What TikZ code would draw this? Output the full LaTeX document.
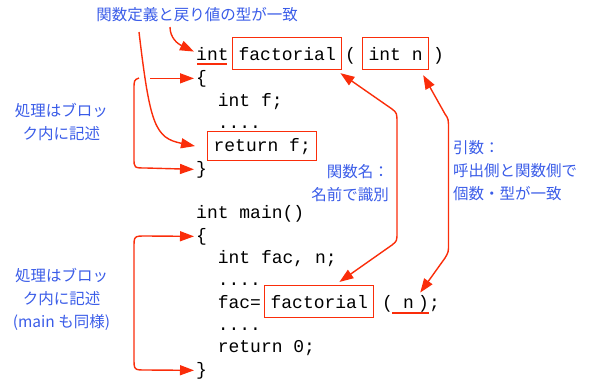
\documentclass[tikz,border=0pt]{standalone}
\usepackage{fontspec}
\setmonofont{Liberation Mono}
\newfontfamily\jpfont{Noto Sans CJK JP}
\usetikzlibrary{arrows.meta, positioning}
\definecolor{markred}{RGB}{250,45,10}
\definecolor{noteblue}{RGB}{58,92,232}

\begin{document}
\begin{tikzpicture}[x=1pt,y=-1pt,
  code/.style={anchor=base west,inner sep=0pt,font=\ttfamily\fontsize{18}{18}\selectfont},
  codebox/.style={code,draw=markred,line width=1.2pt,inner xsep=6pt,minimum height=32pt},
  note/.style={inner sep=0pt,text=noteblue,font=\jpfont\fontsize{15.5}{23}\selectfont},
  redline/.style={draw=markred,line width=1.4pt},
  redarrow/.style={redline,-{Triangle[length=14pt,width=10pt]}},
  botharrow/.style={redline,{Triangle[length=14pt,width=10pt]}-{Triangle[length=14pt,width=10pt]}}]
  \useasboundingbox (0,0) rectangle (592,381);

  % function definition
  \node[code] (inth) at (196,60) {int};
  \node[codebox] (facth) at (232,60) {factorial};
  \node[code] (lph) at (345,60) {(};
  \node[codebox] (intn) at (362,60) {int n};
  \node[code] (rph) at (433,60) {)};
  \node[code] (lb1) at (196,83) {\{};
  \node[code] (decf) at (217.6,106) {int f;};
  \node[code] (dots1) at (217.6,128) {....};
  \node[codebox,minimum height=29pt] (retbox) at (207,151) {return f;};
  \node[code] (rb1) at (196,174) {\}};

  % main
  \node[code] (mainh) at (196,218) {int main()};
  \node[code] (lb2) at (196,241) {\{};
  \node[code] (decm) at (217.6,263) {int fac, n;};
  \node[code] (dots2) at (217.6,285) {....};
  \node[code] (facq) at (217.6,308) {fac=};
  \node[codebox] (facm) at (264,308) {factorial};
  \node[code] (lpm) at (382,308) {(};
  \node[code] (argm) at (403,308) {n};
  \node[code] (rpm) at (418,308) {);};
  \node[code] (dots3) at (217.6,330) {....};
  \node[code] (retm) at (217.6,352) {return 0;};
  \node[code] (rb2) at (196,375) {\}};

  % notes
  \node[note] (title) at (197,15) {関数定義と戻り値の型が一致};
  \node[note,align=center] (block1) at (61.5,121.5) {処理はブロッ\\ク内に記述};
  \node[note,align=center] (block2) at (61.5,299.5) {処理はブロッ\\ク内に記述\\(main も同様)};
  \node[note,align=right,anchor=east] (fname) at (389,183.5) {関数名：\\名前で識別};
  \node[note,align=left,anchor=west] (args) at (453,171) {引数：\\呼出側と関数側で\\個数・型が一致};

  \coordinate (t1) at (170,27);
  \coordinate (t2) at (139,32);
  \coordinate (b1) at (139,78);

  % underlines
  \draw[redline,line width=1.8pt] ([xshift=1pt,yshift=-4pt]inth.base west) -- ([xshift=-2pt,yshift=-4pt]inth.base east);
  \draw[redline,line width=1.8pt] ([xshift=-11pt,yshift=-5pt]argm.base west) -- ([xshift=15pt,yshift=-5pt]argm.base east);

  % arrows
  \draw[redarrow] (t1) .. controls (170,38) and (178,44) .. ([xshift=-2pt,yshift=2pt]inth.west);
  \draw[redarrow] (t2) .. controls (150,125) and (155,138) .. ([xshift=-12pt]retbox.west);
  \draw[redarrow] ([xshift=-46pt]lb1.west) -- ([xshift=-2pt]lb1.west);
  \draw[redarrow] (b1) .. controls (134,80) .. (134,90) -- (134,158)
    .. controls (134,168) .. (146,168) -- ([xshift=-2pt]rb1.west);
  \draw[botharrow] ([xshift=-2pt]lb2.west) -- (146,236) .. controls (134,236) .. (134,248)
    -- (134,358) .. controls (134,370) .. (146,370) -- ([xshift=-2pt]rb2.west);
  \draw[botharrow] ([xshift=-2pt,yshift=-3pt]facth.south east) -- (392,109)
    .. controls (397,113) .. (397,124) -- (397,232) .. controls (397,241) .. (392,245)
    -- ([xshift=-35pt,yshift=3pt]facm.north east);
  \draw[botharrow] ([xshift=-6pt,yshift=-5pt]intn.south east) -- (445,114)
    .. controls (448.5,119) .. (448.5,130) -- (448.5,244) .. controls (448.5,252) .. (445,258)
    -- ([xshift=6pt,yshift=5.5pt]argm.north east);
\end{tikzpicture}
\end{document}
